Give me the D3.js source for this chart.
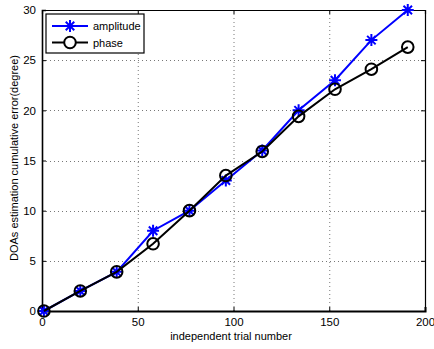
<!DOCTYPE html>
<html>
<head>
<meta charset="utf-8">
<script src="https://cdn.jsdelivr.net/npm/d3@7"></script>
<style>
  html, body { margin: 0; padding: 0; background: #fff; }
  svg { display: block; }
  text { font-family: "Liberation Sans", Arial, Helvetica, sans-serif; }
</style>
</head>
<body>
<svg id="chart" width="434" height="349"></svg>
<script>
// Trial numbers and cumulative DOA errors (degrees)
const trials = [1, 20, 39, 58, 77, 96, 115, 134, 153, 172, 191];
const amplitude = [0, 2, 3.9, 8, 10, 13, 16, 20, 23, 27, 30];
const phase = [0, 2, 3.9, 6.7, 10, 13.5, 15.9, 19.4, 22.1, 24.1, 26.3];
const xTicks = [0, 50, 100, 150, 200];
const yTicks = [0, 5, 10, 15, 20, 25, 30];
const seriesNames = ["amplitude", "phase"];

const svg = d3.select("#chart");
const plotL = 42, plotR = 425, plotT = 10, plotB = 311;

const x = d3.scaleLinear().domain([0, 200]).range([plotL, plotR]);
const y = d3.scaleLinear().domain([0, 30]).range([plotB, plotT]);

// dotted grid
const grid = svg.append("g");
grid.selectAll("line.gx").data(xTicks.slice(1, -1)).join("line")
  .attr("x1", d => x(d) + 0.5).attr("x2", d => x(d) + 0.5)
  .attr("y1", plotT).attr("y2", plotB)
  .attr("stroke", "#555").attr("stroke-width", 0.8).attr("stroke-dasharray", "1,3");
grid.selectAll("line.gy").data(yTicks.slice(1, -1)).join("line")
  .attr("y1", d => Math.round(y(d)) + 0.5).attr("y2", d => Math.round(y(d)) + 0.5)
  .attr("x1", plotL).attr("x2", plotR)
  .attr("stroke", "#555").attr("stroke-width", 0.8).attr("stroke-dasharray", "1,3");

// axes with inward ticks, box style
const fontSize = 11.5;
const xAxis = d3.axisBottom(x).tickValues(xTicks).tickSize(-4).tickPadding(7).tickFormat(d3.format("d"));
const yAxis = d3.axisLeft(y).tickValues(yTicks).tickSize(-4).tickPadding(6).tickFormat(d3.format("d"));
const xTop = d3.axisTop(x).tickValues(xTicks).tickSize(-4).tickFormat("");
const yRight = d3.axisRight(y).tickValues(yTicks).tickSize(-4).tickFormat("");

function styleAxis(g, w) {
  g.select(".domain").attr("stroke", "#000").attr("stroke-width", w);
  g.selectAll(".tick line").attr("stroke", "#000").attr("stroke-width", 1);
  g.selectAll("text").attr("font-size", fontSize).attr("fill", "#000")
    .style("font-family", "'Liberation Sans', Arial, sans-serif");
}
svg.append("g").attr("transform", `translate(0,${plotT})`).call(xTop).call(g => styleAxis(g, 1.2));
svg.append("g").attr("transform", `translate(${plotR},0)`).call(yRight).call(g => styleAxis(g, 1.2));
svg.append("g").attr("transform", `translate(0,${plotB})`).call(xAxis).call(g => styleAxis(g, 2));
svg.append("g").attr("transform", `translate(${plotL},0)`).call(yAxis).call(g => styleAxis(g, 1.6));

// axis titles
svg.append("text").attr("x", 231).attr("y", 340)
  .attr("text-anchor", "middle").attr("font-size", 11).text("independent trial number");
svg.append("text").attr("transform", `translate(18,158) rotate(-90)`)
  .attr("text-anchor", "middle").attr("font-size", 11)
  .text("DOAs estimation cumulative error(degree)");

const line = d3.line().x(d => x(d[0])).y(d => y(d[1]));

function starPath(cx, cy, r) {
  const d = r * Math.SQRT1_2;
  return `M${cx - r},${cy}L${cx + r},${cy}M${cx},${cy - r}L${cx},${cy + r}` +
         `M${cx - d},${cy - d}L${cx + d},${cy + d}M${cx - d},${cy + d}L${cx + d},${cy - d}`;
}

// amplitude series: blue line with asterisks
const ampData = trials.map((t, i) => [t, amplitude[i]]);
svg.append("path").datum(ampData).attr("d", line)
  .attr("fill", "none").attr("stroke", "#0000ff").attr("stroke-width", 2);
svg.append("g").selectAll("path").data(ampData).join("path")
  .attr("d", d => starPath(x(d[0]), y(d[1]), 6))
  .attr("stroke", "#0000ff").attr("stroke-width", 2).attr("fill", "none");

// phase series: black line with open circles
const phData = trials.map((t, i) => [t, phase[i]]);
svg.append("path").datum(phData).attr("d", line)
  .attr("fill", "none").attr("stroke", "#000").attr("stroke-width", 2);
svg.append("g").selectAll("circle").data(phData).join("circle")
  .attr("cx", d => x(d[0])).attr("cy", d => y(d[1])).attr("r", 5.8)
  .attr("stroke", "#000").attr("stroke-width", 2).attr("fill", "none");

// legend
const lg = svg.append("g");
lg.append("rect").attr("x", 46).attr("y", 14).attr("width", 98).attr("height", 39)
  .attr("fill", "#fff").attr("stroke", "#000").attr("stroke-width", 1.2);
seriesNames.forEach((name, i) => {
  const ly = 26 + i * 16.5;
  lg.append("line").attr("x1", 52).attr("x2", 88).attr("y1", ly).attr("y2", ly)
    .attr("stroke", i === 0 ? "#0000ff" : "#000").attr("stroke-width", 2);
  if (i === 0) {
    lg.append("path").attr("d", starPath(70, ly, 6))
      .attr("stroke", "#0000ff").attr("stroke-width", 2).attr("fill", "none");
  } else {
    lg.append("circle").attr("cx", 70).attr("cy", ly).attr("r", 5.8)
      .attr("stroke", "#000").attr("stroke-width", 2).attr("fill", "#fff");
  }
  lg.append("text").attr("x", 93).attr("y", ly + 4).attr("font-size", 11).text(name);
});
</script>
</body>
</html>
